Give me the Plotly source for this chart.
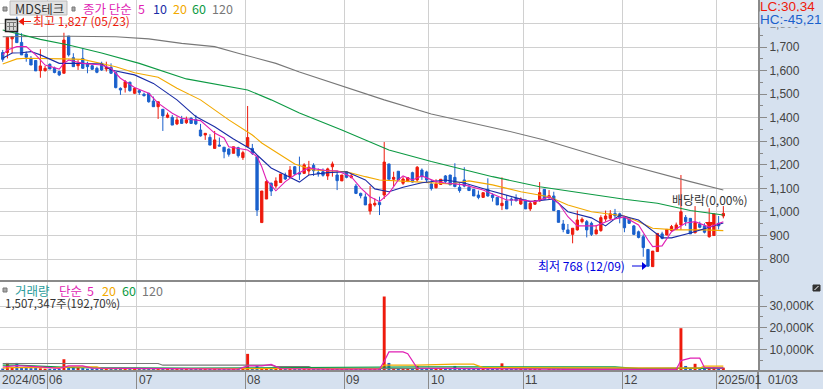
import plotly.graph_objects as go

# ---------- data ----------
open_ = [1677,1677,1735,1761,1720,1671,1652,1643,1600,1600,
 1627,1611,1596,1589,1747,1655,1621,1652,1631,1621,
 1610,1631,1607,1614,1592,1525,1529,1551,1504,1515,
 1500,1504,1471,1447,1436,1402,1402,1374,1393,1379,
 1398,1393,1348,1327,1317,1270,1284,1275,1267,1249,
 1273,1231,1277,1270,1235,955,1055,1122,1110,1125,
 1157,1149,1192,1166,1164,1174,1198,1167,1171,1153,
 1192,1157,1132,1171,1147,1110,1079,1064,1004,1030,
 1040,1072,1204,1139,1173,1122,1129,1167,1136,1178,
 1170,1119,1103,1117,1153,1157,1147,1105,1136,1105,
 1096,1072,1062,1096,1072,1062,1027,1047,1055,1058,
 1034,1051,1013,1033,1047,1096,1061,1068,1006,949,
 924,905,924,959,959,952,907,921,970,973,
 994,992,977,969,941,916,895,841,768,832,
 907,902,921,926,945,977,973,912,949,941,
 895,900,952,983]
high = [1688,1742,1747,1829,1759,1681,1662,1643,1691,1620,
 1631,1617,1600,1761,1747,1674,1645,1695,1638,1624,
 1617,1638,1638,1631,1592,1529,1560,1553,1529,1521,
 1507,1504,1490,1468,1436,1422,1412,1405,1408,1405,
 1402,1412,1374,1334,1330,1344,1316,1275,1270,1277,
 1277,1260,1450,1289,1235,1089,1136,1125,1147,1161,
 1167,1195,1195,1235,1207,1217,1207,1185,1185,1188,
 1214,1175,1157,1174,1164,1119,1082,1079,1110,1058,
 1065,1297,1204,1171,1173,1150,1146,1171,1195,1185,
 1175,1136,1139,1139,1157,1157,1207,1122,1190,1115,
 1096,1091,1082,1143,1079,1062,1147,1072,1062,1075,
 1062,1051,1044,1051,1127,1096,1093,1086,1006,966,
 949,931,1006,977,966,959,945,986,1006,1008,
 1013,997,983,973,945,921,905,841,834,909,
 916,926,945,955,1157,987,973,1025,959,952,
 1016,992,983,1025]
low = [1638,1652,1674,1719,1667,1638,1624,1599,1570,1596,
 1607,1589,1577,1589,1660,1617,1603,1607,1589,1603,
 1589,1599,1596,1586,1525,1497,1507,1511,1501,1497,
 1490,1464,1447,1395,1344,1398,1369,1369,1374,1374,
 1374,1369,1320,1306,1284,1270,1280,1228,1235,1249,
 1231,1221,1277,1242,983,955,1055,1068,1100,1125,
 1136,1146,1157,1136,1161,1157,1153,1150,1150,1136,
 1150,1093,1132,1143,1142,1076,1058,1030,989,1023,
 987,1055,1139,1110,1136,1115,1129,1125,1129,1136,
 1125,1091,1100,1117,1122,1115,1105,1082,1105,1091,
 1068,1054,1062,1065,1044,1030,1008,1013,1027,1044,
 1030,1013,1004,1030,1044,1054,1054,1004,956,914,
 907,867,921,952,892,898,905,916,959,966,
 973,952,914,949,902,888,810,768,768,832,
 884,902,916,924,924,941,907,909,931,909,
 891,900,926,973]
close = [1648,1742,1744,1719,1667,1657,1624,1599,1620,1610,
 1607,1592,1582,1730,1667,1617,1631,1610,1617,1606,
 1593,1603,1614,1589,1528,1518,1553,1515,1525,1508,
 1494,1468,1447,1468,1408,1412,1369,1391,1376,1391,
 1376,1374,1323,1334,1284,1306,1280,1256,1245,1277,
 1239,1252,1316,1249,1008,1089,1129,1089,1132,1161,
 1140,1178,1161,1161,1200,1190,1175,1164,1156,1183,
 1204,1133,1157,1147,1153,1079,1069,1030,1034,1037,
 1031,1212,1139,1147,1136,1140,1146,1127,1190,1150,
 1136,1100,1119,1139,1129,1115,1108,1091,1110,1091,
 1068,1062,1082,1068,1061,1030,1037,1013,1051,1048,
 1054,1013,1037,1047,1082,1054,1069,1006,956,926,
 909,931,966,969,924,905,924,976,983,992,
 984,976,933,952,905,892,849,770,834,909,
 888,926,938,945,1001,959,907,955,935,914,
 956,992,941,994]

volume_k = [1100,3700,1600,3700,1800,1400,1300,1500,1200,1000,
 1000,1000,900,5400,1700,1700,1500,1300,1000,1100,
 1000,1000,900,900,900,700,800,600,700,700,
 600,800,600,800,900,500,700,500,500,500,
 700,600,500,600,500,800,500,700,500,700,
 600,500,7900,1300,2300,1300,1100,900,1000,900,
 1100,800,800,700,800,600,700,900,600,800,
 700,600,700,600,800,500,700,800,600,700,
 500,34500,3700,1300,1100,900,800,1100,2300,900,
 1000,700,800,900,600,900,2300,800,1000,700,
 800,600,500,900,700,500,3500,1000,800,600,
 500,900,500,700,600,400,600,500,600,500,
 700,500,800,600,500,700,500,600,500,600,
 500,600,400,500,600,500,500,900,700,900,
 500,800,700,900,19800,2300,1000,3300,900,1100,
 1500,1500,1100,1507]

ma5_i = [0,1,3,5,7,9,12,13,14,17,21,23,25,28,31,33,36,38,42,45,47,48,52,54,55,56,58,60,62,65,69,71,74,76,78,80,82,84,85,87,89,92,94,98,102,107,110,113,116,118,120,122,126,129,132,135,137,138,140,142,145,147,150,153]
ma5_v = [1667,1688,1702,1702,1667,1624,1607,1631,1645,1631,1624,1610,1568,1529,1504,1462,1419,1398,1388,1335,1314,1277,1263,1235,1192,1136,1090,1129,1157,1187,1175,1175,1150,1102,1065,1044,1079,1136,1153,1136,1153,1129,1123,1115,1093,1051,1051,1044,1064,1038,980,941,941,966,979,945,881,853,856,916,953,959,936,959]
ma10_i = [0,2,4,6,8,12,17,21,23,28,32,37,41,45,49,53,54,57,60,63,65,69,73,77,79,82,85,89,94,98,103,107,112,117,120,125,128,131,135,140,142,146,150,153]
ma10_v = [1653,1675,1676,1681,1667,1631,1631,1628,1603,1582,1546,1476,1405,1362,1310,1263,1242,1187,1157,1127,1157,1167,1171,1136,1098,1086,1105,1124,1136,1123,1093,1072,1044,1055,1001,975,941,987,966,890,890,911,936,953]
ma20_i = [0,2,3,5,9,13,17,21,24,28,33,37,42,48,53,55,59,62,66,73,77,80,87,95,99,104,110,116,120,125,132,135,138,143,149,153]
ma20_v = [1628,1642,1650,1653,1653,1650,1648,1631,1617,1591,1572,1525,1476,1391,1327,1293,1242,1204,1178,1171,1150,1136,1129,1119,1132,1115,1086,1065,1030,1001,983,959,931,924,924,921]
ma60_i = [0,4,8,14,21,29,39,52,57,63,72,82,91,104,114,132,139,146,153]
ma60_v = [1773,1754,1733,1709,1675,1631,1565,1518,1476,1420,1348,1263,1214,1150,1107,1054,1037,1006,987]
ma120_i = [0,14,24,31,38,45,50,58,63,72,81,91,107,115,132,146,153]
ma120_v = [1744,1746,1744,1735,1716,1702,1674,1631,1594,1535,1476,1416,1345,1306,1204,1129,1093]

vma5_i = [0,3,8,12,14,17,19,30,50,52,55,57,59,70,80,81,82,85,86,88,120,143,144,146,148,149,153]
vma5_v = [1800,2400,1900,1200,2340,2340,1300,1000,800,2340,2340,3000,1100,800,800,4500,8800,8800,8000,1300,700,700,4800,5900,5900,1500,1300]
vma20_i = [0,2,12,15,20,21,80,81,87,88,96,100,102,148,149,153]
vma20_v = [1300,1550,1550,1870,1870,1080,1000,2670,2670,2670,3130,3130,1550,1300,2200,2200]
vma60_i = [0,3,15,40,90,130,135,153]
vma60_v = [2670,2670,1550,1300,1870,1870,1100,1300]
vma120_i = [0,33,34,57,58,65,66,135,145,153]
vma120_v = [3420,3420,2640,2640,2000,2000,1100,1100,1100,1300]

month_pos = [9.5,28.5,51.5,72.5,90.5,110.5,131.5,151.5]
month_labels = ["06","07","08","09","10","11","12","2025/01"]
price_ticks = [800,900,1000,1100,1200,1300,1400,1500,1600,1700,1800]
vol_ticks = [10000,20000,30000]
vol_tick_labels = ["10,000K","20,000K","30,000K"]

RED = "#ee1a0c"; BLUE = "#1a60cc"; NAVY = "#1a2ca6"; MAG = "#e01fb4"
ORG = "#f2a900"; GRN = "#0c9a43"; GRY = "#787878"; BAND = "#d6e1ef"
GRID = "#d0d0d0"; AX = "#8a8a8a"; TXT = "#444444"
FONT = "Noto Sans CJK KR"; NUM = "Liberation Sans"
W, H = 823, 389
PW, PH, DIV = 758, 371, 281

x = list(range(len(close)))
fig = go.Figure()
fig.add_trace(go.Candlestick(x=x, open=open_, high=high, low=low, close=close,
    xaxis="x", yaxis="y", whiskerwidth=0,
    increasing=dict(line=dict(color=RED, width=1), fillcolor=RED),
    decreasing=dict(line=dict(color=BLUE, width=1), fillcolor=BLUE),
    hoverinfo="skip", showlegend=False))
for xs, ys, c in [(ma120_i, ma120_v, GRY), (ma60_i, ma60_v, GRN), (ma20_i, ma20_v, ORG),
                  (ma10_i, ma10_v, NAVY), (ma5_i, ma5_v, MAG)]:
    fig.add_trace(go.Scatter(x=xs, y=ys, mode="lines", line=dict(color=c, width=1.1),
                             xaxis="x", yaxis="y", hoverinfo="skip", showlegend=False))
fig.add_trace(go.Bar(x=x, y=volume_k, width=0.62,
    marker=dict(color=[RED if c >= o else BLUE for o, c in zip(open_, close)], line_width=0),
    xaxis="x2", yaxis="y2", hoverinfo="skip", showlegend=False))
for xs, ys, c in [(vma120_i, vma120_v, GRY), (vma60_i, vma60_v, GRN),
                  (vma20_i, vma20_v, ORG), (vma5_i, vma5_v, MAG)]:
    fig.add_trace(go.Scatter(x=xs, y=ys, mode="lines", line=dict(color=c, width=1.2),
                             xaxis="x2", yaxis="y2", hoverinfo="skip", showlegend=False))

def px(v): return v / PW
def py(v): return 1 - v / PH

def label(text, xp, yp, color=TXT, size=12, anchor="left", family=FONT, **kw):
    fig.add_annotation(xref="paper", yref="paper", x=px(xp), y=py(yp), text=text, showarrow=False,
                       xanchor=anchor, yanchor="middle", font=dict(family=family, size=size, color=color),
                       borderpad=0, **kw)

def rect(x0, y0, x1, y1, fill=None, line=None, lw=1):
    fig.add_shape(type="rect", xref="paper", yref="paper", x0=px(x0), x1=px(x1), y0=py(y0), y1=py(y1),
                  fillcolor=fill, line=dict(color=line, width=lw if line else 0))

def seg(x0, y0, x1, y1, color, lw=1):
    fig.add_shape(type="line", xref="paper", yref="paper", x0=px(x0), x1=px(x1), y0=py(y0), y1=py(y1),
                  line=dict(color=color, width=lw))

def tri(pts, color):
    path = "M " + " L ".join(f"{px(a):.5f} {py(b):.5f}" for a, b in pts) + " Z"
    fig.add_shape(type="path", xref="paper", yref="paper", path=path, fillcolor=color, line=dict(color=color, width=0))

# divider and bottom rule
seg(0, DIV, 758, DIV, AX, 2)
seg(0, PH, 823, PH, AX, 2)
seg(758, PH, 758, H, AX, 2)

# title row
rect(3, 7, 7, 11, "#aaaaaa", "#777777")
rect(10, 1, 67, 15, "#e2e2e2", "#bbbbbb")
label("MDS테크", 14, 8, "#333333", 12.5)
rect(72, 7, 75, 11, "#aaaaaa", "#777777")
label("종가 단순", 82, 8, MAG, 12.5)
label("5", 137, 8, MAG, 12.5)
label("10", 152, 8, NAVY, 12.5)
label("20", 172, 8, ORG, 12.5)
label("60", 191, 8, GRN, 12.5)
label("120", 211, 8, GRY, 12.5)

# table icon
rect(5.5, 19.5, 17.5, 31.5, "#d8d8d8", "#222222", 1.5)
for gx in (9.5, 13.5):
    seg(gx, 22, gx, 30, "#777777")
seg(7, 22.5, 16, 22.5, "#777777")
seg(7, 26.5, 16, 26.5, "#777777")

# high marker
tri([(18.5, 21.5), (24, 17.5), (24, 25.5)], RED)
seg(24, 21.5, 31, 21.5, RED)
label("최고 1,827 (05/23)", 32, 21, RED, 12)
# low marker
seg(632, 266, 642, 266, "#0000e0")
tri([(647, 266), (642, 262), (642, 270)], "#0000e0")
label("최저 768 (12/09)", 537, 265, "#0000e0", 12)
# ex-dividend
label("배당락(0,00%)", 671, 200, "#333333", 12)
tri([(705, 222), (714, 222), (711, 226), (708, 226)], RED)

# volume header
rect(3, 288, 7, 292, "#aaaaaa", "#777777")
label("거래량", 14, 290, "#2a9c9c", 12.5)
label("단순", 58, 290, MAG, 12.5)
label("5", 86, 290, MAG, 12.5)
label("20", 101, 290, ORG, 12.5)
label("60", 121, 290, GRN, 12.5)
label("120", 141, 290, GRY, 12.5)
label("1,507,347주(192,70%)", 4, 303, "#333333", 11.5)

# date band
label("2024/05", 1, 380, TXT, 12, family=NUM)
for p, t in zip(month_pos, month_labels):
    fig.add_annotation(xref="x2", yref="paper", x=p, y=py(380), text=t, showarrow=False, xanchor="left",
                       yanchor="middle", xshift=0, font=dict(family=NUM, size=12, color=TXT))
label("01/03", 767, 380, TXT, 12, family=NUM)

# right pane
label("LC:30,34", 759, 7, RED, 13.5, family=NUM)
label("HC:-45,21", 759, 19, BLUE, 13.5, family=NUM, bgcolor=BAND)
rect(813, 285, 820, 291, "#333333", "#333333")
seg(814.5, 290, 818.5, 286, "#ffffff")

xcommon = dict(range=[-0.573, 160.36], tickmode="array", tickvals=month_pos, showgrid=True,
               gridcolor=GRID, gridwidth=1, zeroline=False, showline=False, fixedrange=True)
fig.update_layout(
    width=W, height=H, autosize=False,
    margin=dict(l=0, r=W - PW, t=0, b=H - PH, pad=0),
    paper_bgcolor=BAND, plot_bgcolor="white", showlegend=False, hovermode=False,
    bargap=0.35,
    font=dict(family=FONT, size=12, color=TXT),
    xaxis=dict(domain=[0, 1], anchor="y", showticklabels=False, ticks="", rangeslider=dict(visible=False), **xcommon),
    xaxis2=dict(domain=[0, 1], anchor="y2", showticklabels=False, ticks="outside", ticklen=18, tickcolor=AX,
                tickwidth=1, **xcommon),
    yaxis=dict(domain=[1 - DIV / PH, 1], anchor="x", side="right", range=[707, 1900], tickmode="array",
               tickvals=price_ticks, tickformat=",d", ticks="outside", ticklen=7, tickcolor=AX, showgrid=True,
               gridcolor=GRID, gridwidth=1, zeroline=False, showline=True, linecolor=AX, linewidth=2,
               tickfont=dict(family=NUM, size=12, color=TXT),
               minor=dict(tickmode="array", tickvals=[750 + 100 * i for i in range(11)], ticks="outside",
                          ticklen=3, tickcolor=AX)),
    yaxis2=dict(domain=[0, 1 - DIV / PH], anchor="x2", side="right", range=[-47, 41690], tickmode="array",
                tickvals=vol_ticks, ticktext=vol_tick_labels, ticks="outside", ticklen=7, tickcolor=AX,
                showgrid=True, gridcolor=GRID, gridwidth=1, zeroline=False, showline=True, linecolor=AX,
                linewidth=2, tickfont=dict(family=NUM, size=12, color=TXT),
                minor=dict(tickmode="array", tickvals=[0, 5000, 15000, 25000, 35000], ticks="outside",
                           ticklen=3, tickcolor=AX)),
)
fig.write_html("out.html", config=dict(displayModeBar=False), post_script="document.body.style.margin='0';")
